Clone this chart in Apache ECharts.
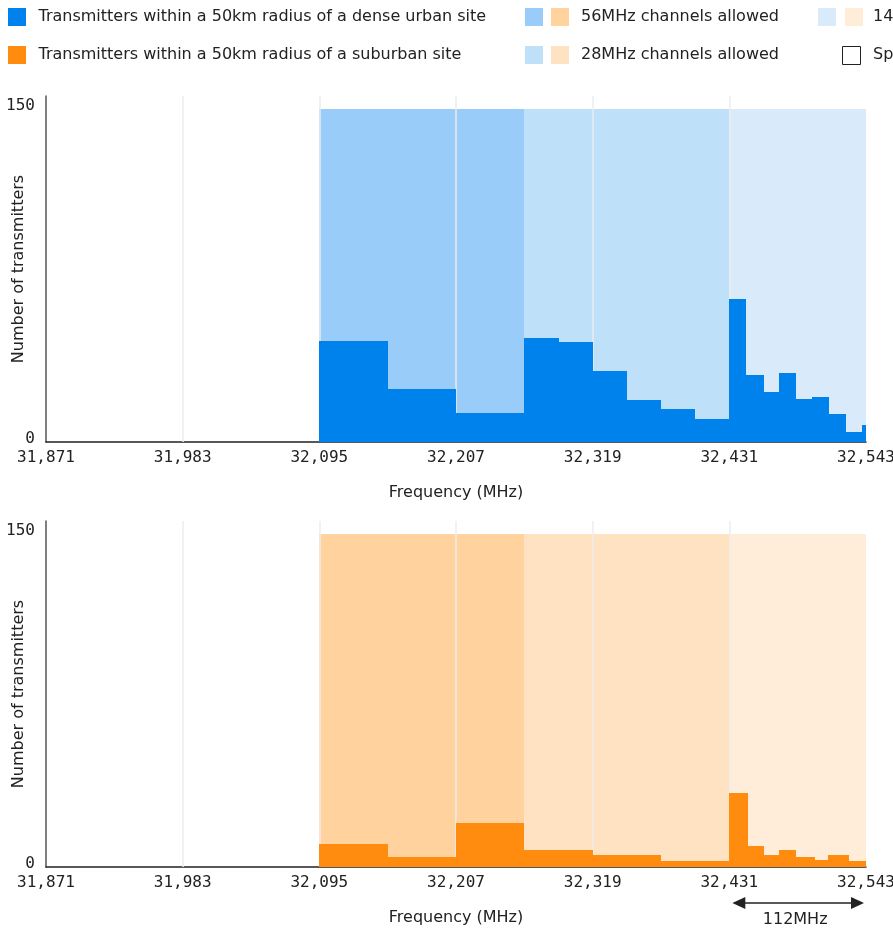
<!DOCTYPE html>
<html><head><meta charset="utf-8">
<script src="https://cdn.jsdelivr.net/npm/echarts@6/dist/echarts.min.js"></script>
<style>html,body{margin:0;padding:0;background:#fff;}#c{width:893px;height:928px;}</style>
</head><body><div id="c"></div>
<script>
// ---- data ----
const xTicks = [31871, 31983, 32095, 32207, 32319, 32431, 32543];
const yTicks = [0, 150];
const gridLineValues = [31983, 32095, 32207, 32319, 32431];

const bandStarts = [32095, 32263, 32431];
const bandEnds = [32263, 32431, 32543];
const bandTop = [150, 150, 150];
const bandLabels = ['56MHz channels allowed', '28MHz channels allowed', '14MHz channels allowed'];

const urbanEdges = [32095, 32151, 32207, 32263, 32291, 32319, 32347, 32375, 32403, 32431, 32445, 32459, 32472, 32486, 32499, 32513, 32527, 32540, 32543];
const urbanCounts = [45.5, 24, 13, 47, 45, 32, 19, 15, 10.5, 64.5, 30, 22.5, 31, 19.5, 20.5, 12.5, 4.5, 7.5];

const suburbanEdges = [32095, 32151, 32207, 32263, 32319, 32375, 32431, 32446, 32459, 32472, 32486, 32501, 32512, 32529, 32543];
const suburbanCounts = [10.5, 4.5, 20, 7.5, 5.5, 2.5, 33.5, 9.5, 5.5, 7.5, 4.5, 3, 5.5, 2.5];

const seriesLabels = ['Transmitters within a 50km radius of a dense urban site', 'Transmitters within a 50km radius of a suburban site'];
const otherLegendLabel = 'Spectrum not available';
const annotationSpan = [32431, 32543];
const annotationLabel = '112MHz';
const xAxisName = 'Frequency (MHz)';
const yAxisName = 'Number of transmitters';

// ---- styles ----
const urbanColor = '#0082ED';
const suburbanColor = '#FF8C0F';
const blueBands = ['#99CCF8', '#BFE0F9', '#D9EBFB'];
const orangeBands = ['#FFD29E', '#FFE2C2', '#FFEDDA'];
const SANS = '"DejaVu Sans", sans-serif';
const MONO = '"DejaVu Sans Mono", monospace';
const TXT = '#222';

function toBins(edges, counts) {
  return counts.map((v, i) => [edges[i], edges[i + 1], v]);
}
const bandData = bandStarts.map((s, i) => [s, bandEnds[i], bandTop[i]]);

function rectRenderer(colors) {
  return function (params, api) {
    const a = api.coord([api.value(0), api.value(2)]);
    const b = api.coord([api.value(1), 0]);
    const x0 = Math.round(a[0]), x1 = Math.round(b[0]);
    const y0 = Math.round(a[1]), y1 = Math.round(b[1]);
    return {
      type: 'rect',
      shape: { x: x0, y: y0, width: x1 - x0, height: y1 - y0 },
      style: { fill: Array.isArray(colors) ? colors[params.dataIndex] : colors, stroke: null }
    };
  };
}

const grids = [
  { left: 46, top: 96, width: 820, height: 346, containLabel: false, outerBoundsMode: 'none' },
  { left: 46, top: 521, width: 820, height: 346, containLabel: false, outerBoundsMode: 'none' }
];

function xAxisDef(i) {
  return {
    type: 'value', gridIndex: i, min: xTicks[0], max: xTicks[xTicks.length - 1],
    name: xAxisName, nameLocation: 'middle', nameGap: 43, nameMoveOverlap: false,
    nameTextStyle: { fontFamily: SANS, fontSize: 16, color: TXT },
    axisLine: { show: true, lineStyle: { color: '#222', width: 1.5 } },
    axisTick: { show: false },
    splitLine: { show: false },
    axisLabel: {
      customValues: xTicks, fontFamily: MONO, fontSize: 16, color: TXT, margin: 8,
      formatter: v => Number(v).toLocaleString('en-US')
    }
  };
}
function yAxisDef(i) {
  return {
    type: 'value', gridIndex: i, min: 0, max: 156,
    name: yAxisName, nameLocation: 'middle', nameGap: 19, nameMoveOverlap: false,
    nameTextStyle: { fontFamily: SANS, fontSize: 16, color: TXT },
    axisLine: { show: true, lineStyle: { color: '#555', width: 1.5 } },
    axisTick: { show: false },
    splitLine: { show: false },
    axisLabel: {
      customValues: yTicks, fontFamily: MONO, fontSize: 16, color: TXT, margin: 11,
      verticalAlign: 'bottom', lineHeight: 7
    }
  };
}

function gridLineSeries(i) {
  return {
    type: 'line', xAxisIndex: i, yAxisIndex: i, data: [], silent: true, z: 1,
    markLine: {
      silent: true, symbol: 'none', z: 1.5, animation: false,
      label: { show: false },
      lineStyle: { color: '#ececec', width: 1.5, type: 'solid' },
      data: gridLineValues.map(v => ({ xAxis: v }))
    }
  };
}

const chart = echarts.init(document.getElementById('c'), null, { renderer: 'canvas' });
chart.setOption({
  animation: false,
  backgroundColor: '#fff',
  grid: grids,
  xAxis: [xAxisDef(0), xAxisDef(1)],
  yAxis: [yAxisDef(0), yAxisDef(1)],
  series: [
    { type: 'custom', name: 'bandsTop', xAxisIndex: 0, yAxisIndex: 0, z: 1, silent: true,
      encode: { x: [0, 1], y: 2 }, data: bandData, renderItem: rectRenderer(blueBands) },
    gridLineSeries(0),
    { type: 'custom', name: seriesLabels[0], xAxisIndex: 0, yAxisIndex: 0, z: 2, silent: true,
      encode: { x: [0, 1], y: 2 }, data: toBins(urbanEdges, urbanCounts), renderItem: rectRenderer(urbanColor) },
    { type: 'custom', name: 'bandsBottom', xAxisIndex: 1, yAxisIndex: 1, z: 1, silent: true,
      encode: { x: [0, 1], y: 2 }, data: bandData, renderItem: rectRenderer(orangeBands) },
    gridLineSeries(1),
    { type: 'custom', name: seriesLabels[1], xAxisIndex: 1, yAxisIndex: 1, z: 2, silent: true,
      encode: { x: [0, 1], y: 2 }, data: toBins(suburbanEdges, suburbanCounts), renderItem: rectRenderer(suburbanColor) }
  ]
});

// ---- legend + annotation (graphic) ----
const SQ = 18;
function sq(x, y, fill, stroke) {
  return { type: 'rect', shape: { x: x, y: y, width: SQ, height: SQ },
    style: { fill: fill, stroke: stroke || null, lineWidth: stroke ? 1 : 0 }, silent: true };
}
function txt(x, y, t, align) {
  return { type: 'text', x: x, y: y, silent: true,
    style: { text: t, fontFamily: SANS, fontSize: 16, fill: TXT, verticalAlign: 'middle', align: align || 'left' } };
}
const row1 = 17, row2 = 55;
const elements = [
  sq(8, row1 - SQ / 2, urbanColor), txt(38.5, row1, seriesLabels[0]),
  sq(8, row2 - SQ / 2, suburbanColor), txt(38.5, row2, seriesLabels[1]),
  sq(525, row1 - SQ / 2, blueBands[0]), sq(551, row1 - SQ / 2, orangeBands[0]), txt(581, row1, bandLabels[0]),
  sq(525, row2 - SQ / 2, blueBands[1]), sq(551, row2 - SQ / 2, orangeBands[1]), txt(581, row2, bandLabels[1]),
  sq(818, row1 - SQ / 2, blueBands[2]), sq(845, row1 - SQ / 2, orangeBands[2]), txt(873, row1, bandLabels[2]),
  sq(842.5, row2 - SQ / 2 + 0.5, '#fff', '#222'), txt(873, row2, otherLegendLabel)
];

const p1 = chart.convertToPixel({ gridIndex: 1 }, [annotationSpan[0], 0]);
const p2 = chart.convertToPixel({ gridIndex: 1 }, [annotationSpan[1], 0]);
const ay = p1[1] + 36;
const ax1 = p1[0] + 3, ax2 = p2[0] - 2;
elements.push(
  { type: 'line', silent: true, shape: { x1: ax1 + 8, y1: ay, x2: ax2 - 8, y2: ay }, style: { stroke: '#222', lineWidth: 1.5 } },
  { type: 'polygon', silent: true, shape: { points: [[ax1, ay], [ax1 + 13, ay - 6], [ax1 + 13, ay + 6]] }, style: { fill: '#222' } },
  { type: 'polygon', silent: true, shape: { points: [[ax2, ay], [ax2 - 13, ay - 6], [ax2 - 13, ay + 6]] }, style: { fill: '#222' } },
  txt((ax1 + ax2) / 2 - 3, ay + 17, annotationLabel, 'center')
);

chart.setOption({ graphic: { elements: elements } });
</script>
</body></html>
